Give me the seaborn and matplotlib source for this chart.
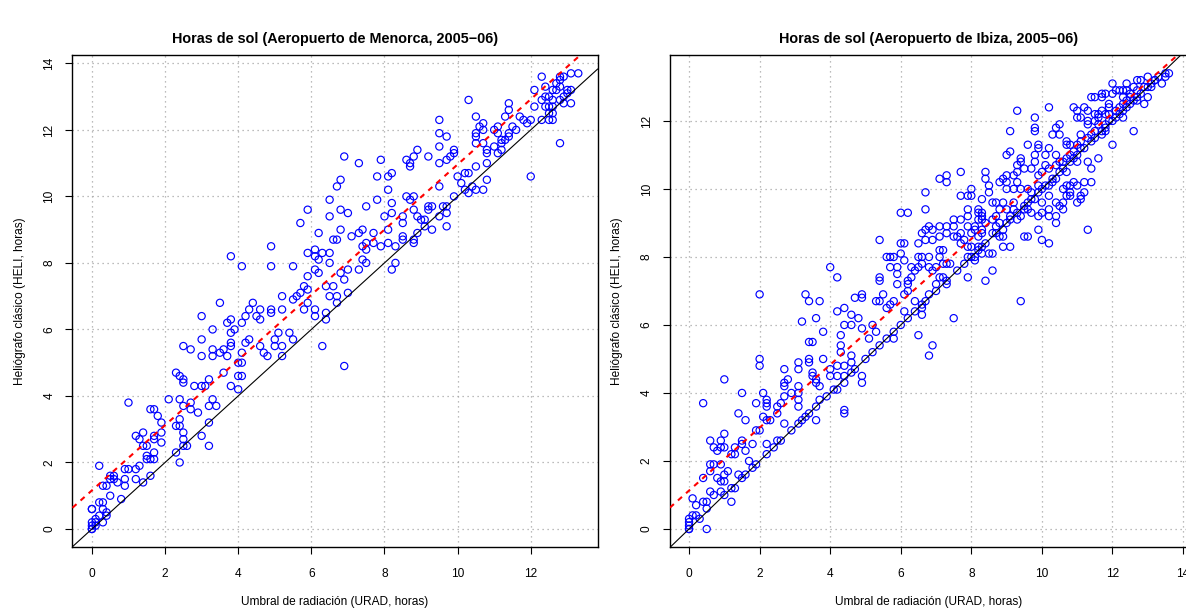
import matplotlib
matplotlib.use("Agg")
import matplotlib.pyplot as plt
import numpy as np
import pandas as pd
import seaborn as sns

# Daily sunshine hours: (URAD, HELI) pairs
menorca_pairs = [
    (0, 0), (0, 0), (0, 0.1), (0.1, 0.1), (0.1, 0.2), (0, 0.2), (0.1, 0.3), (0.2, 0.4),
    (0.3, 0.2), (0.4, 0.4), (0.3, 0.6), (0.4, 0.5), (0, 0.6), (0, 0.6), (0.2, 0.8),
    (0.3, 0.8), (0.5, 1.0), (0.3, 1.3), (0.4, 1.3), (0.8, 0.9), (0.7, 1.4), (0.6, 1.5),
    (0.5, 1.6), (0.6, 1.6), (0.9, 1.3), (0.9, 1.5), (0.9, 1.8), (1.0, 1.8), (1.2, 1.8),
    (1.2, 1.5), (1.3, 1.9), (1.4, 1.4), (1.6, 1.6), (1.5, 2.2), (1.5, 2.1), (1.6, 2.1),
    (1.7, 2.1), (1.7, 2.3), (1.5, 2.5), (1.4, 2.5), (1.3, 2.7), (1.2, 2.8), (1.4, 2.9),
    (1.7, 2.8), (1.7, 2.7), (1.9, 2.9), (1.9, 2.6), (1.9, 3.2), (1.8, 3.4), (1.7, 3.6),
    (1.6, 3.6), (1.0, 3.8), (0.2, 1.9), (0.5, 1.5),
    (2.3, 2.3), (2.4, 2.0), (2.6, 2.5), (2.5, 2.5), (2.5, 2.7), (2.5, 2.9), (2.4, 3.1),
    (2.3, 3.1), (2.4, 3.3), (2.1, 3.9), (2.4, 3.9), (2.5, 3.7), (2.7, 3.8), (2.7, 3.6),
    (2.9, 3.5), (2.3, 4.7), (2.4, 4.6), (2.5, 4.5), (2.5, 4.4), (2.8, 4.3), (3.0, 4.3),
    (3.1, 4.3), (3.2, 4.5), (3.3, 3.9), (3.2, 3.7), (3.4, 3.7), (3.2, 3.2), (3.0, 2.8),
    (3.2, 2.5), (2.5, 5.5), (2.7, 5.4), (3.0, 5.7), (3.0, 5.2), (3.0, 6.4), (3.3, 5.4),
    (3.3, 5.2), (3.3, 6.0), (3.5, 5.3), (3.6, 5.4), (3.7, 5.2), (3.6, 4.7), (3.8, 4.3),
    (4.0, 4.2), (3.8, 5.6), (3.8, 5.5), (3.8, 5.9), (3.9, 6.0), (3.7, 6.2), (3.8, 6.3),
    (3.5, 6.8), (4.0, 4.6), (4.1, 4.6), (4.0, 5.0), (4.1, 5.0), (4.1, 5.3), (4.1, 6.2),
    (3.8, 8.2),
    (6.9, 11.2), (7.3, 11.0), (7.9, 11.1), (7.8, 10.6), (8.1, 10.6), (8.2, 10.7),
    (8.1, 10.2), (7.8, 9.9), (8.2, 9.8), (6.8, 10.5), (6.7, 10.3), (6.5, 9.9), (5.9, 9.6),
    (5.7, 9.2), (6.5, 9.4), (6.8, 9.6), (7.0, 9.5), (7.5, 9.7), (8.0, 9.4), (8.2, 9.5),
    (8.1, 9.0), (6.8, 9.0), (6.2, 8.9), (6.6, 8.7), (6.7, 8.7), (7.1, 8.8), (7.3, 8.9),
    (7.4, 9.0), (7.7, 8.9), (7.5, 8.6), (7.4, 8.5), (7.5, 8.4), (7.7, 8.6), (7.9, 8.5),
    (8.1, 8.6), (8.3, 8.5), (4.9, 8.5), (4.9, 7.9), (4.1, 7.9), (5.5, 7.9), (5.9, 8.3),
    (6.1, 8.4), (6.3, 8.3), (6.5, 8.3), (6.1, 8.2), (6.2, 8.1), (6.5, 8.0), (6.1, 7.8),
    (6.2, 7.7), (5.9, 7.6), (6.8, 7.7), (7.0, 7.8), (6.9, 7.5), (7.3, 7.8), (7.4, 8.1),
    (7.5, 8.0), (8.2, 7.8), (8.3, 8.0), (5.8, 7.3), (5.7, 7.1), (5.6, 7.0), (5.5, 6.9),
    (5.9, 7.2), (5.9, 6.8), (5.8, 6.6), (5.2, 7.0), (5.2, 6.6), (4.9, 6.6), (4.9, 6.5),
    (4.4, 6.8), (4.6, 6.6), (4.6, 6.3), (4.5, 6.4), (4.3, 6.6), (4.2, 6.4), (4.2, 5.6),
    (4.3, 5.7), (4.6, 5.5), (4.7, 5.3), (4.8, 5.2), (5.0, 5.7), (5.0, 5.5), (5.1, 5.9),
    (5.2, 5.5), (5.2, 5.2), (5.4, 5.9), (5.5, 5.7), (6.1, 6.4), (6.1, 6.6), (6.4, 6.5),
    (6.4, 6.3), (6.5, 7.0), (6.7, 7.0), (6.7, 6.8), (6.6, 7.3), (6.4, 7.3), (7.0, 7.1),
    (6.3, 5.5), (6.9, 4.9),
    (12.3, 13.6), (12.4, 13.3), (12.1, 13.2), (12.8, 13.6), (12.9, 13.6), (13.1, 13.7),
    (13.3, 13.7), (12.8, 13.5), (12.7, 13.4), (12.8, 13.3), (12.6, 13.2), (12.7, 13.2),
    (13.0, 13.2), (13.1, 13.2), (13.0, 13.1), (12.3, 12.9), (12.4, 13.0), (12.5, 13.0),
    (12.9, 13.0), (12.8, 12.9), (12.6, 12.9), (13.1, 12.8), (12.9, 12.8), (12.4, 12.7),
    (12.5, 12.7), (12.6, 12.7), (12.1, 12.7), (12.3, 12.3), (12.5, 12.5), (12.6, 12.5),
    (12.5, 12.3), (12.6, 12.3), (12.8, 11.6), (12.0, 10.6), (11.4, 12.8), (11.4, 12.6),
    (11.3, 12.4), (11.7, 12.4), (11.8, 12.3), (11.9, 12.2), (12.0, 12.3), (11.6, 12.0),
    (11.5, 12.1), (10.3, 12.9), (10.5, 12.4), (10.7, 12.2), (10.6, 12.1), (10.5, 11.9),
    (10.5, 11.8), (10.7, 12.0), (10.5, 11.6), (10.7, 11.6), (11.0, 12.0), (11.1, 12.1),
    (11.1, 11.9), (11.4, 11.9), (11.4, 11.8), (11.3, 11.7), (11.2, 11.7), (11.2, 11.6),
    (11.0, 11.5), (11.2, 11.4), (11.1, 11.3), (10.8, 11.4), (10.8, 11.3), (10.8, 11.0),
    (10.5, 10.9), (10.3, 10.7), (10.2, 10.7), (10.1, 10.4), (10.0, 10.6), (10.2, 10.2),
    (10.3, 10.1), (10.4, 10.3), (10.5, 10.2), (10.7, 10.2), (10.8, 10.5), (9.5, 12.3),
    (9.5, 11.9), (9.7, 11.8), (9.5, 11.5), (8.9, 11.4), (8.8, 11.2), (8.6, 11.1),
    (8.7, 11.0), (8.7, 10.9), (9.2, 11.2), (9.5, 11.0), (9.7, 11.1), (9.8, 11.2),
    (9.9, 11.3), (9.9, 11.4), (9.5, 10.3), (9.9, 10.0), (9.6, 9.7), (9.7, 9.7), (9.7, 9.5),
    (9.5, 9.4), (9.2, 9.7), (9.3, 9.7), (9.2, 9.6), (8.8, 10.0), (8.7, 9.9), (8.6, 10.0),
    (8.8, 9.6), (8.9, 9.4), (9.0, 9.3), (9.1, 9.3), (9.1, 9.1), (9.3, 9.0), (9.7, 9.1),
    (8.9, 8.9), (8.8, 8.7), (8.8, 8.6), (8.5, 9.4), (8.5, 9.2), (8.5, 8.8), (8.5, 8.7),
]

ibiza_pairs = [
    (0, 0), (0, 0), (0, 0.1), (0, 0.2), (0, 0.3), (0.1, 0.4), (0.2, 0.4), (0.3, 0.3),
    (0.5, 0), (0.5, 0.6), (0.1, 0.9), (0.2, 0.7), (0.4, 0.8), (0.5, 0.8), (0.6, 1.1),
    (0.7, 1.0), (0.4, 1.5), (0.6, 1.7), (0.6, 1.9), (0.7, 1.9), (0.9, 1.9), (0.8, 1.5),
    (0.9, 1.4), (1.0, 1.4), (0.9, 1.1), (1.0, 1.0), (1.2, 0.8), (1.2, 1.2), (1.3, 1.2),
    (1.0, 1.6), (1.1, 1.7), (0.6, 2.6), (0.7, 2.4), (0.9, 2.6), (0.8, 2.3), (0.9, 2.4),
    (1.0, 2.4), (1.0, 2.8), (1.2, 2.2), (1.3, 2.2), (1.3, 2.4), (1.4, 1.6), (1.6, 1.6),
    (1.7, 2.0), (1.8, 1.8), (1.5, 2.5), (1.5, 2.6), (1.6, 2.3), (1.8, 2.5), (2.0, 2.9),
    (1.9, 2.9), (1.6, 3.2), (1.4, 3.4), (0.4, 3.7), (1.0, 4.4), (1.5, 4.0), (1.9, 3.7),
    (2.1, 3.3), (2.2, 3.2), (2.3, 3.2), (2.2, 2.5), (2.5, 2.6), (2.1, 4.0), (2.2, 3.8),
    (2.2, 3.7), (2.2, 3.6), (2.5, 3.4), (2.5, 3.6), (2.6, 3.7), (2.7, 3.1), (2.7, 3.9),
    (2.7, 4.2), (2.7, 4.3), (2.8, 4.4), (2.7, 4.7), (2.9, 4.0), (3.1, 4.2), (3.1, 4.0),
    (3.1, 3.8), (3.1, 3.6), (3.1, 3.1), (3.2, 3.2), (3.4, 3.4), (3.6, 3.2), (3.6, 3.6),
    (3.7, 3.8), (3.7, 4.2), (3.6, 4.3), (3.5, 4.5), (3.5, 4.6), (3.6, 4.4), (3.4, 4.9),
    (3.4, 5.0), (3.1, 4.9), (3.1, 4.7), (3.8, 5.0), (2.0, 5.0), (2.0, 4.8), (2.0, 6.9),
    (3.2, 6.1), (3.3, 6.9), (3.4, 6.7), (3.7, 6.7), (3.6, 6.2), (3.4, 5.5), (3.5, 5.5),
    (3.8, 5.8), (4.0, 4.7), (4.1, 4.1), (4.0, 4.5), (4.2, 4.1), (4.4, 4.3), (4.4, 3.5),
    (4.4, 3.4), (4.9, 4.3), (4.0, 7.7), (1.5, 1.5), (1.9, 1.9), (2.2, 2.2), (2.4, 2.4),
    (2.6, 2.6), (2.9, 2.9), (3.3, 3.3), (3.9, 3.9),
    (4.2, 7.4), (4.2, 6.4), (4.4, 6.5), (4.4, 6.0), (4.6, 6.3), (4.6, 6.0), (4.8, 6.2),
    (4.9, 5.9), (4.7, 6.8), (4.9, 6.9), (4.9, 6.8), (5.2, 6.0), (5.3, 6.7), (5.5, 6.9),
    (5.4, 6.7), (5.1, 5.6), (5.3, 5.8), (5.6, 5.6), (5.8, 5.6), (5.6, 6.5), (5.7, 6.6),
    (5.8, 6.7), (5.4, 7.4), (5.4, 7.3), (5.4, 8.5), (4.3, 5.7), (4.3, 5.4), (4.3, 5.2),
    (4.4, 4.8), (4.2, 4.8), (4.6, 5.1), (4.6, 4.9), (4.7, 4.7), (4.4, 4.5), (4.2, 4.5),
    (4.9, 4.5), (5.0, 5.0), (5.2, 5.2), (6.0, 6.0), (6.2, 6.2), (6.1, 6.4), (6.4, 6.7),
    (6.5, 5.7), (6.8, 5.1), (6.9, 5.4), (6.6, 6.5), (6.6, 6.3), (6.7, 6.7), (6.8, 6.9),
    (7.0, 7.2), (7.0, 7.0), (6.1, 6.9), (6.2, 7.0), (6.2, 7.2), (5.9, 7.2), (6.2, 7.3),
    (6.3, 7.4), (6.3, 7.7), (6.4, 7.6), (6.5, 7.7), (6.6, 8.0), (6.5, 8.0), (6.6, 7.8),
    (6.8, 8.0), (6.8, 7.7), (6.9, 7.6), (7.0, 7.7), (7.1, 7.4), (7.2, 7.4), (7.3, 7.2),
    (7.5, 6.2), (7.2, 7.8), (7.1, 8.0), (7.3, 7.8), (7.2, 8.2), (7.1, 8.2), (7.4, 7.8),
    (6.0, 8.4), (6.1, 8.4), (6.0, 9.3), (6.2, 9.3), (5.6, 8.0), (5.7, 8.0), (5.8, 8.0),
    (5.7, 7.7), (5.9, 7.7), (6.0, 8.1), (6.1, 7.9), (5.9, 7.5), (6.7, 9.9), (6.7, 9.4),
    (6.8, 8.9), (6.7, 8.8), (6.6, 8.7), (6.5, 8.4), (6.7, 8.5), (6.9, 8.5), (6.9, 8.8),
    (7.1, 8.9), (7.1, 8.6), (7.3, 8.9), (7.3, 8.7), (7.5, 8.6), (7.5, 8.9), (7.1, 10.3),
    (7.3, 10.2), (7.3, 10.4), (7.7, 10.5), (7.7, 9.8), (7.9, 9.8), (8.0, 9.8), (7.9, 9.4),
    (7.7, 9.1), (7.5, 9.1), (7.9, 9.2), (7.6, 8.6), (7.7, 8.7), (7.8, 8.5), (7.7, 8.4),
    (7.9, 8.3), (8.0, 8.7), (7.9, 8.9), (8.1, 8.9), (8.2, 9.1), (8.2, 9.3), (8.2, 9.4),
    (8.3, 9.3), (8.3, 9.2), (8.3, 9.1), (8.1, 8.8), (8.2, 8.6), (8.3, 8.7), (8.3, 8.8),
    (8.4, 9.0), (8.0, 8.3), (8.2, 8.3), (7.9, 8.0), (8.1, 8.0), (8.1, 7.9), (7.9, 7.4),
    (8.3, 8.3), (8.3, 8.1), (8.5, 8.1), (8.4, 7.3), (8.0, 10.0), (8.4, 10.5), (8.4, 10.3),
    (8.5, 10.1), (8.5, 9.9), (8.3, 9.7), (9.4, 6.7), (4.6, 4.6), (5.4, 5.4), (5.8, 5.8),
    (6.4, 6.4), (6.6, 6.6), (7.3, 7.3), (7.6, 7.6), (7.8, 7.8), (8.0, 8.0), (8.2, 8.2),
    (8.4, 8.4),
    (13.6, 13.4), (13.5, 13.4), (13.5, 13.3), (13.4, 13.1), (13.2, 13.2), (13.0, 13.3),
    (12.7, 13.2), (12.8, 13.2), (12.4, 13.1), (12.6, 13.0), (12.9, 13.0), (13.1, 13.0),
    (12.0, 13.1), (12.1, 12.9), (12.2, 12.9), (12.3, 12.9), (12.4, 12.9), (12.0, 12.8),
    (11.8, 12.8), (11.7, 12.8), (12.3, 12.7), (12.5, 12.8), (12.7, 12.9), (12.5, 12.7),
    (13.0, 12.7), (12.4, 12.6), (12.7, 12.6), (12.9, 12.5), (12.3, 12.5), (12.2, 12.4),
    (11.9, 12.5), (11.9, 12.4), (12.3, 12.3), (12.1, 12.3), (11.7, 12.3), (11.6, 12.2),
    (11.6, 12.1), (12.3, 12.1), (11.8, 12.2), (11.9, 12.2), (11.9, 12.0), (11.5, 12.0),
    (11.4, 12.7), (11.5, 12.7), (11.7, 12.7), (10.9, 12.4), (11.0, 12.3), (11.2, 12.4),
    (11.3, 12.3), (11.1, 12.1), (11.0, 12.1), (11.3, 12.0), (11.3, 11.9), (11.5, 12.2),
    (11.6, 11.9), (11.8, 11.9), (11.8, 11.7), (11.7, 11.6), (11.5, 11.7), (11.4, 11.6),
    (11.3, 11.5), (11.1, 11.6), (11.1, 11.4), (11.0, 11.3), (10.8, 11.3), (10.7, 11.3),
    (10.9, 11.1), (11.1, 11.2), (10.8, 11.0), (10.7, 10.9), (11.0, 10.8), (10.6, 10.8),
    (10.5, 10.8), (10.4, 10.7), (10.6, 10.6), (10.7, 10.5), (10.5, 10.5), (10.4, 10.3),
    (10.3, 10.2), (10.2, 10.1), (10.7, 11.4), (10.5, 11.9), (10.4, 11.8), (10.5, 11.6),
    (10.3, 11.6), (10.2, 12.4), (9.8, 12.1), (9.8, 11.8), (9.8, 11.7), (9.3, 12.3),
    (9.1, 11.7), (9.6, 11.3), (9.9, 11.3), (9.9, 11.2), (10.2, 11.2), (10.4, 11.0),
    (10.1, 11.0), (9.0, 11.0), (9.1, 11.1), (9.4, 10.9), (9.4, 10.8), (9.5, 10.6),
    (9.3, 10.7), (9.8, 11.0), (9.8, 10.8), (10.1, 10.7), (10.2, 10.6), (10.0, 10.5),
    (9.9, 10.4), (9.7, 10.6), (9.3, 10.5), (9.2, 10.4), (9.0, 10.4), (9.3, 10.2),
    (8.9, 10.3), (8.8, 10.2), (9.0, 10.2), (9.0, 10.0), (9.2, 10.0), (9.4, 10.0),
    (9.6, 10.0), (9.7, 9.9), (9.9, 10.1), (10.0, 10.0), (10.2, 9.8), (10.0, 9.6),
    (9.8, 9.7), (9.6, 9.6), (9.5, 9.5), (9.2, 9.6), (8.9, 9.6), (8.7, 9.6), (8.6, 9.6),
    (8.8, 9.4), (9.0, 9.4), (9.2, 9.4), (9.5, 9.4), (9.6, 9.4), (9.7, 9.3), (9.4, 9.2),
    (9.3, 9.1), (9.1, 9.2), (8.7, 9.2), (8.6, 9.1), (8.8, 9.0), (9.0, 9.0), (8.7, 8.9),
    (8.6, 8.7), (8.9, 8.8), (8.8, 8.6), (8.9, 8.6), (9.1, 8.3), (8.9, 8.3), (8.6, 8.1),
    (8.6, 7.6), (9.5, 8.6), (9.9, 8.8), (9.9, 9.2), (10.0, 9.3), (10.2, 9.4), (10.2, 9.2),
    (10.4, 9.2), (10.5, 9.5), (10.4, 9.6), (10.6, 9.6), (10.6, 10.0), (10.7, 10.1),
    (10.8, 10.1), (10.9, 10.2), (11.0, 10.1), (10.8, 9.9), (10.7, 9.8), (10.8, 9.8),
    (11.1, 9.8), (11.0, 9.6), (11.1, 9.7), (11.2, 9.9), (11.2, 10.2), (11.4, 10.2),
    (11.3, 10.8), (11.4, 10.6), (11.6, 10.9), (12.0, 11.3), (12.6, 11.7), (11.3, 8.8),
    (10.2, 8.4), (10.0, 8.5), (10.4, 9.0), (9.6, 8.6), (10.6, 9.4),
    (8.7, 8.7), (9.1, 9.1), (9.3, 9.3), (9.7, 9.7), (9.9, 9.9), (10.1, 10.1), (10.3, 10.3),
    (10.8, 10.8), (10.9, 10.9), (11.0, 11.0), (11.2, 11.2), (11.4, 11.4), (11.5, 11.5),
    (11.7, 11.7), (11.8, 11.8), (12.0, 12.0), (12.1, 12.1), (12.2, 12.2), (12.4, 12.4),
    (12.5, 12.5), (12.6, 12.6), (12.7, 12.7), (12.8, 12.8), (13.0, 13.0), (13.1, 13.1),
    (13.2, 13.2), (13.3, 13.3),
]

# Least-squares fits (intercept, slope) shown as red dashed lines
menorca_fit = (1.16, 0.98)
ibiza_fit = (1.13, 0.925)

titles = ["Horas de sol (Aeropuerto de Menorca, 2005\u221206)",
          "Horas de sol (Aeropuerto de Ibiza, 2005\u221206)"]
x_label = "Umbral de radiación (URAD, horas)"
y_label = "Heliógrafo clásico (HELI, horas)"

sns.set_theme(style="ticks")
plt.rcParams['font.family'] = ['Liberation Sans', 'DejaVu Sans']
plt.rcParams.update({
    'text.color': 'black', 'axes.labelcolor': 'black',
    'xtick.color': 'black', 'ytick.color': 'black',
    'axes.edgecolor': 'black', 'axes.linewidth': 1.0,
})

fig = plt.figure(figsize=(11.86, 6.11), dpi=100)

panels = [
    dict(pairs=menorca_pairs, fit=menorca_fit, title=titles[0],
         rect=[0.0611, 0.1044, 0.4429, 0.8054],
         xlim=(-0.532, 13.832), ylim=(-0.548, 14.248), yticks=range(0, 15, 2)),
    dict(pairs=ibiza_pairs, fit=ibiza_fit, title=titles[1],
         rect=[0.5648, 0.1044, 0.4370, 0.8054],
         xlim=(-0.544, 14.144), ylim=(-0.536, 13.936), yticks=range(0, 13, 2)),
]

for p in panels:
    ax = fig.add_axes(p['rect'])
    df = pd.DataFrame(p['pairs'], columns=['urad', 'heli'])

    ax.grid(True, color='#a6a6a6', linestyle=(0, (1, 3)), linewidth=0.9)
    ax.set_axisbelow(True)

    sns.scatterplot(data=df, x='urad', y='heli', ax=ax, marker='o', s=27,
                    facecolor='none', edgecolor='blue', linewidth=0.85,
                    zorder=3, legend=False)

    ax.axline((0, 0), slope=1, color='black', lw=0.8, zorder=4)
    b, m = p['fit']
    ax.axline((0, b), slope=m, color='red', lw=1.5, dashes=(2.6, 2.6), zorder=5)

    ax.set_xticks(range(0, 15, 2))
    ax.set_yticks(list(p['yticks']))
    ax.set_yticklabels([str(t) for t in p['yticks']], rotation=90, va='center')
    ax.set_xlim(*p['xlim'])
    ax.set_ylim(*p['ylim'])
    ax.tick_params(direction='out', length=5.3, width=0.8, labelsize=8.6, pad=7)
    ax.tick_params(axis='x', pad=10)

    ax.set_title(p['title'], fontsize=10.4, fontweight='bold', pad=9)
    ax.set_xlabel(x_label, fontsize=8.6, labelpad=11)
    ax.set_ylabel(y_label, fontsize=8.6, labelpad=12.5)
    for s in ax.spines.values():
        s.set_visible(True)
        s.set_color('black')

fig.savefig('out.png', dpi=100)
